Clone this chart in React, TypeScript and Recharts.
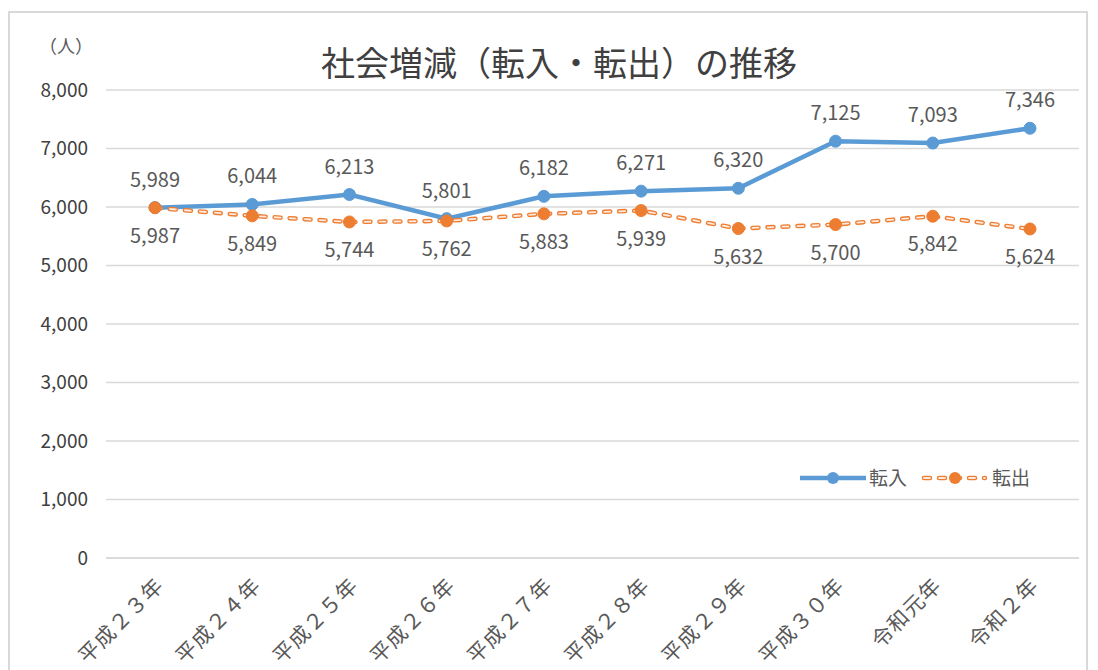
import React from 'react';
import { LineChart, Line, XAxis, YAxis, CartesianGrid, LabelList } from 'recharts';

const years = ['平成２３年', '平成２４年', '平成２５年', '平成２６年', '平成２７年', '平成２８年', '平成２９年', '平成３０年', '令和元年', '令和２年'];
const tennyu = [5989, 6044, 6213, 5801, 6182, 6271, 6320, 7125, 7093, 7346];
const tenshutsu = [5987, 5849, 5744, 5762, 5883, 5939, 5632, 5700, 5842, 5624];
const yTicks = [0, 1000, 2000, 3000, 4000, 5000, 6000, 7000, 8000];

const data = years.map((y, i) => ({ year: y, in: tennyu[i], out: tenshutsu[i] }));

const BLUE = '#5B9BD5';
const ORANGE = '#ED7D31';
const PALE = '#FCE9DC';
const FONT = '"Noto Sans CJK JP", "Noto Sans", sans-serif';
const fmt = (v: number) => v.toLocaleString('en-US');

const XTick = (props: any) => {
  const { x, y, payload } = props;
  return (
    <g transform={`translate(${x + 10},${y + 21})`}>
      <text textAnchor="end" transform="rotate(-45)" fill="#595959" fontSize={21} fontFamily={FONT} letterSpacing={1}>
        {payload.value}
      </text>
    </g>
  );
};

const LegendBox = () => (
  <svg width={260} height={30} style={{ position: 'absolute', left: 798, top: 463 }}>
    <line x1={2} y1={15} x2={68} y2={15} stroke={BLUE} strokeWidth={4.5} />
    <circle cx={35} cy={15} r={6} fill={BLUE} />
    <text x={71} y={22} fill="#595959" fontSize={19} fontFamily={FONT}>転入</text>
    <line x1={126} y1={15} x2={187} y2={15} stroke={ORANGE} strokeWidth={4.5} strokeDasharray="6 9" strokeLinecap="round" />
    <line x1={126} y1={15} x2={187} y2={15} stroke={PALE} strokeWidth={1.8} strokeDasharray="6 9" strokeLinecap="round" />
    <circle cx={157} cy={15} r={6} fill={ORANGE} />
    <text x={194} y={22} fill="#595959" fontSize={19} fontFamily={FONT}>転出</text>
  </svg>
);

export default function App() {
  return (
    <div style={{ position: 'absolute', left: 0, top: 0, width: 1098, height: 670, background: '#fff', overflow: 'hidden', fontFamily: FONT }}>
      <div style={{ position: 'absolute', left: 8, top: 11, width: 1080, height: 700, border: '2px solid #D9D9D9', boxSizing: 'border-box' }} />
      <div style={{ position: 'absolute', left: 0, width: 1098, top: 38, textAlign: 'center', fontSize: 34, lineHeight: '48px', color: '#404040', paddingLeft: 20, boxSizing: 'border-box' }}>
        社会増減（転入・転出）の推移
      </div>
      <div style={{ position: 'absolute', left: 39, top: 32, fontSize: 18, color: '#595959' }}>（人）</div>
      <div style={{ position: 'absolute', left: 0, top: 0 }}>
        <LineChart width={1098} height={670} data={data} margin={{ top: 90, right: 19, bottom: 12, left: 0 }}>
          <CartesianGrid vertical={false} stroke="#D9D9D9" strokeWidth={1.5} />
          <XAxis
            dataKey="year"
            padding={{ left: 49, right: 49 }}
            axisLine={{ stroke: '#D9D9D9', strokeWidth: 1.5 }}
            tickLine={false}
            height={100}
            interval={0}
            tick={<XTick />}
          />
          <YAxis
            width={106}
            domain={[0, 8000]}
            ticks={yTicks}
            axisLine={false}
            tickLine={false}
            tickMargin={12}
            tickFormatter={fmt}
            tick={{ fill: '#404040', fontSize: 19, fontFamily: FONT }}
          />
          <Line
            dataKey="in"
            stroke={BLUE}
            strokeWidth={4.5}
            dot={{ r: 6, fill: BLUE, stroke: BLUE, strokeWidth: 1 }}
            isAnimationActive={false}
          >
            <LabelList dataKey="in" position="top" offset={21} formatter={fmt} fill="#595959" fontSize={20} fontFamily={FONT} />
          </Line>
          <Line dataKey="out" stroke={ORANGE} strokeWidth={4.5} strokeDasharray="6 9" strokeLinecap="round" dot={false} isAnimationActive={false} legendType="none" />
          <Line dataKey="out" stroke={PALE} strokeWidth={1.8} strokeDasharray="6 9" strokeLinecap="round" dot={false} isAnimationActive={false} legendType="none" />
          <Line
            dataKey="out"
            stroke="none"
            dot={{ r: 6, fill: ORANGE, stroke: ORANGE, strokeWidth: 1 }}
            isAnimationActive={false}
          >
            <LabelList dataKey="out" position="bottom" offset={21} formatter={fmt} fill="#595959" fontSize={20} fontFamily={FONT} />
          </Line>
        </LineChart>
      </div>
      <LegendBox />
    </div>
  );
}
